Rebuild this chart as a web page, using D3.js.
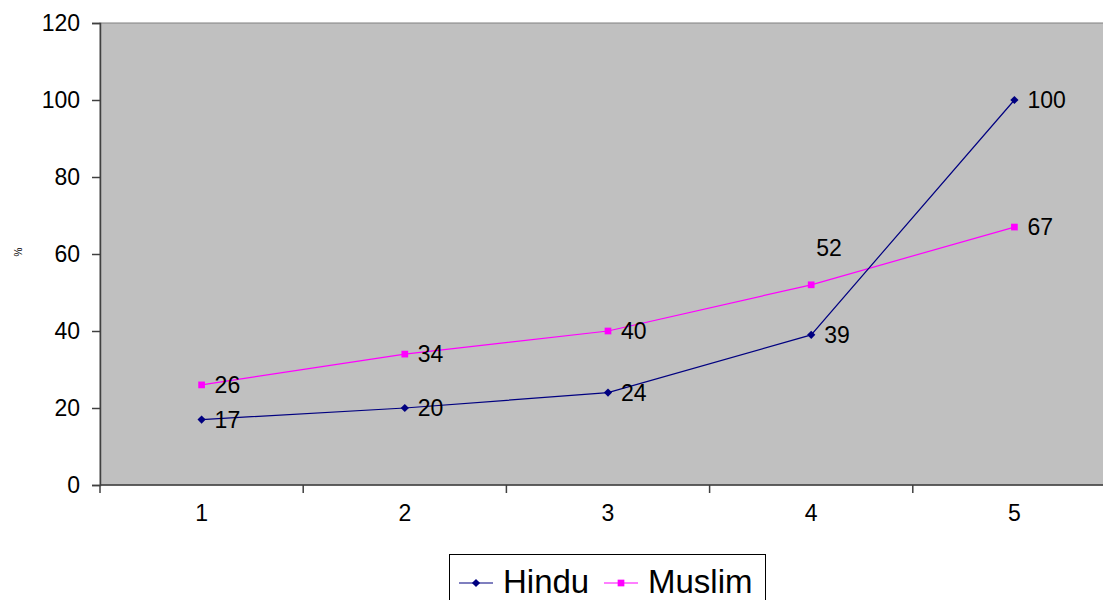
<!DOCTYPE html>
<html>
<head>
<meta charset="utf-8">
<script src="https://cdn.jsdelivr.net/npm/d3@7"></script>
<style>
  html, body { margin: 0; padding: 0; background: #fff; }
  svg { display: block; font-family: Arial, "Liberation Sans", sans-serif; }
</style>
</head>
<body>
<svg id="chart" width="1103" height="600"></svg>
<script>
// Share (%) by group, categories 1–5
const categories = ["1", "2", "3", "4", "5"];
const hindu = [17, 20, 24, 39, 100];
const muslim = [26, 34, 40, 52, 67];
const yTicks = [0, 20, 40, 60, 80, 100, 120];
const seriesNames = ["Hindu", "Muslim"];

const svg = d3.select("#chart");
const plot = { left: 100, top: 23, bottom: 485, band: 203.2 };
const plotRight = plot.left + plot.band * categories.length;

const x = d3.scaleBand().domain(categories).range([plot.left, plotRight]).padding(0);
const y = d3.scaleLinear().domain([0, 120]).range([plot.bottom, plot.top]);
const cx = c => x(c) + x.bandwidth() / 2;

// plot area
svg.append("rect")
  .attr("x", plot.left).attr("y", plot.top)
  .attr("width", plotRight - plot.left).attr("height", plot.bottom - plot.top)
  .attr("fill", "#C0C0C0").attr("stroke", "#808080").attr("stroke-width", 1);

// y axis
const yAxis = svg.append("g")
  .attr("transform", `translate(${plot.left},0)`)
  .call(d3.axisLeft(y).tickValues(yTicks).tickSize(8).tickPadding(12));
yAxis.selectAll("text").attr("font-size", 23).attr("fill", "#000")
  .style("font-family", "Arial, 'Liberation Sans', sans-serif");
yAxis.selectAll("line, path").attr("stroke", "#404040").attr("stroke-width", 1.5);

// x axis: ticks at category boundaries, labels centred in bands
const xAxisG = svg.append("g").attr("transform", `translate(0,${plot.bottom})`);
xAxisG.append("line")
  .attr("x1", plot.left).attr("x2", plotRight)
  .attr("stroke", "#404040").attr("stroke-width", 1.5);
xAxisG.selectAll("line.tick")
  .data(categories)
  .join("line").attr("class", "tick")
  .attr("x1", d => x(d)).attr("x2", d => x(d))
  .attr("y1", 0).attr("y2", 8)
  .attr("stroke", "#404040").attr("stroke-width", 1.5);
xAxisG.selectAll("text")
  .data(categories)
  .join("text")
  .attr("x", d => cx(d)).attr("y", 36)
  .attr("text-anchor", "middle")
  .attr("font-size", 23).attr("fill", "#000")
  .text(d => d);

// y axis title
svg.append("text")
  .attr("transform", "translate(22,252) rotate(-90)")
  .attr("text-anchor", "middle")
  .attr("font-size", 10).attr("fill", "#000")
  .text("%");

const line = d3.line().x((d, i) => cx(categories[i])).y(d => y(d));

// marker: square, or a square turned 45° for the diamond
function marker(sel, kind) {
  const size = kind === "diamond" ? 34 : 45;
  sel.attr("d", d3.symbol().type(d3.symbolSquare).size(size));
  return kind === "diamond" ? " rotate(45)" : "";
}

function drawSeries(values, color, kind, labelShift) {
  const g = svg.append("g");
  g.append("path")
    .datum(values)
    .attr("d", line)
    .attr("fill", "none").attr("stroke", color).attr("stroke-width", 1.2);
  g.selectAll("path.m")
    .data(values)
    .join("path").attr("class", "m")
    .each(function (d, i) {
      const rot = marker(d3.select(this), kind);
      d3.select(this).attr("transform", `translate(${cx(categories[i])},${y(d)})${rot}`);
    })
    .attr("fill", color);
  g.selectAll("text")
    .data(values)
    .join("text")
    .attr("x", (d, i) => cx(categories[i]) + (labelShift[i] ? labelShift[i][0] : 13))
    .attr("y", (d, i) => y(d) + (labelShift[i] ? labelShift[i][1] : 0))
    .attr("dy", "0.36em")
    .attr("font-size", 23).attr("fill", "#000")
    .text(d => d);
}

drawSeries(muslim, "#FF00FF", "square", { 3: [5, -37] });
drawSeries(hindu, "#000080", "diamond", {});

// legend
const legend = svg.append("g");
legend.append("rect")
  .attr("x", 449.5).attr("y", 554.5).attr("width", 316).attr("height", 60)
  .attr("fill", "#fff").attr("stroke", "#000").attr("stroke-width", 1);
const legendItems = [
  { name: seriesNames[0], color: "#000080", kind: "diamond", x0: 459 },
  { name: seriesNames[1], color: "#FF00FF", kind: "square", x0: 604 }
];
legendItems.forEach(it => {
  legend.append("line")
    .attr("x1", it.x0).attr("x2", it.x0 + 34).attr("y1", 583).attr("y2", 583)
    .attr("stroke", it.color).attr("stroke-width", 1.2);
  const m = legend.append("path").attr("fill", it.color);
  const rot = marker(m, it.kind);
  m.attr("transform", `translate(${it.x0 + 17},583)${rot}`);
  legend.append("text")
    .attr("x", it.x0 + 44).attr("y", 593)
    .attr("font-size", 33).attr("fill", "#000")
    .text(it.name);
});
</script>
</body>
</html>
